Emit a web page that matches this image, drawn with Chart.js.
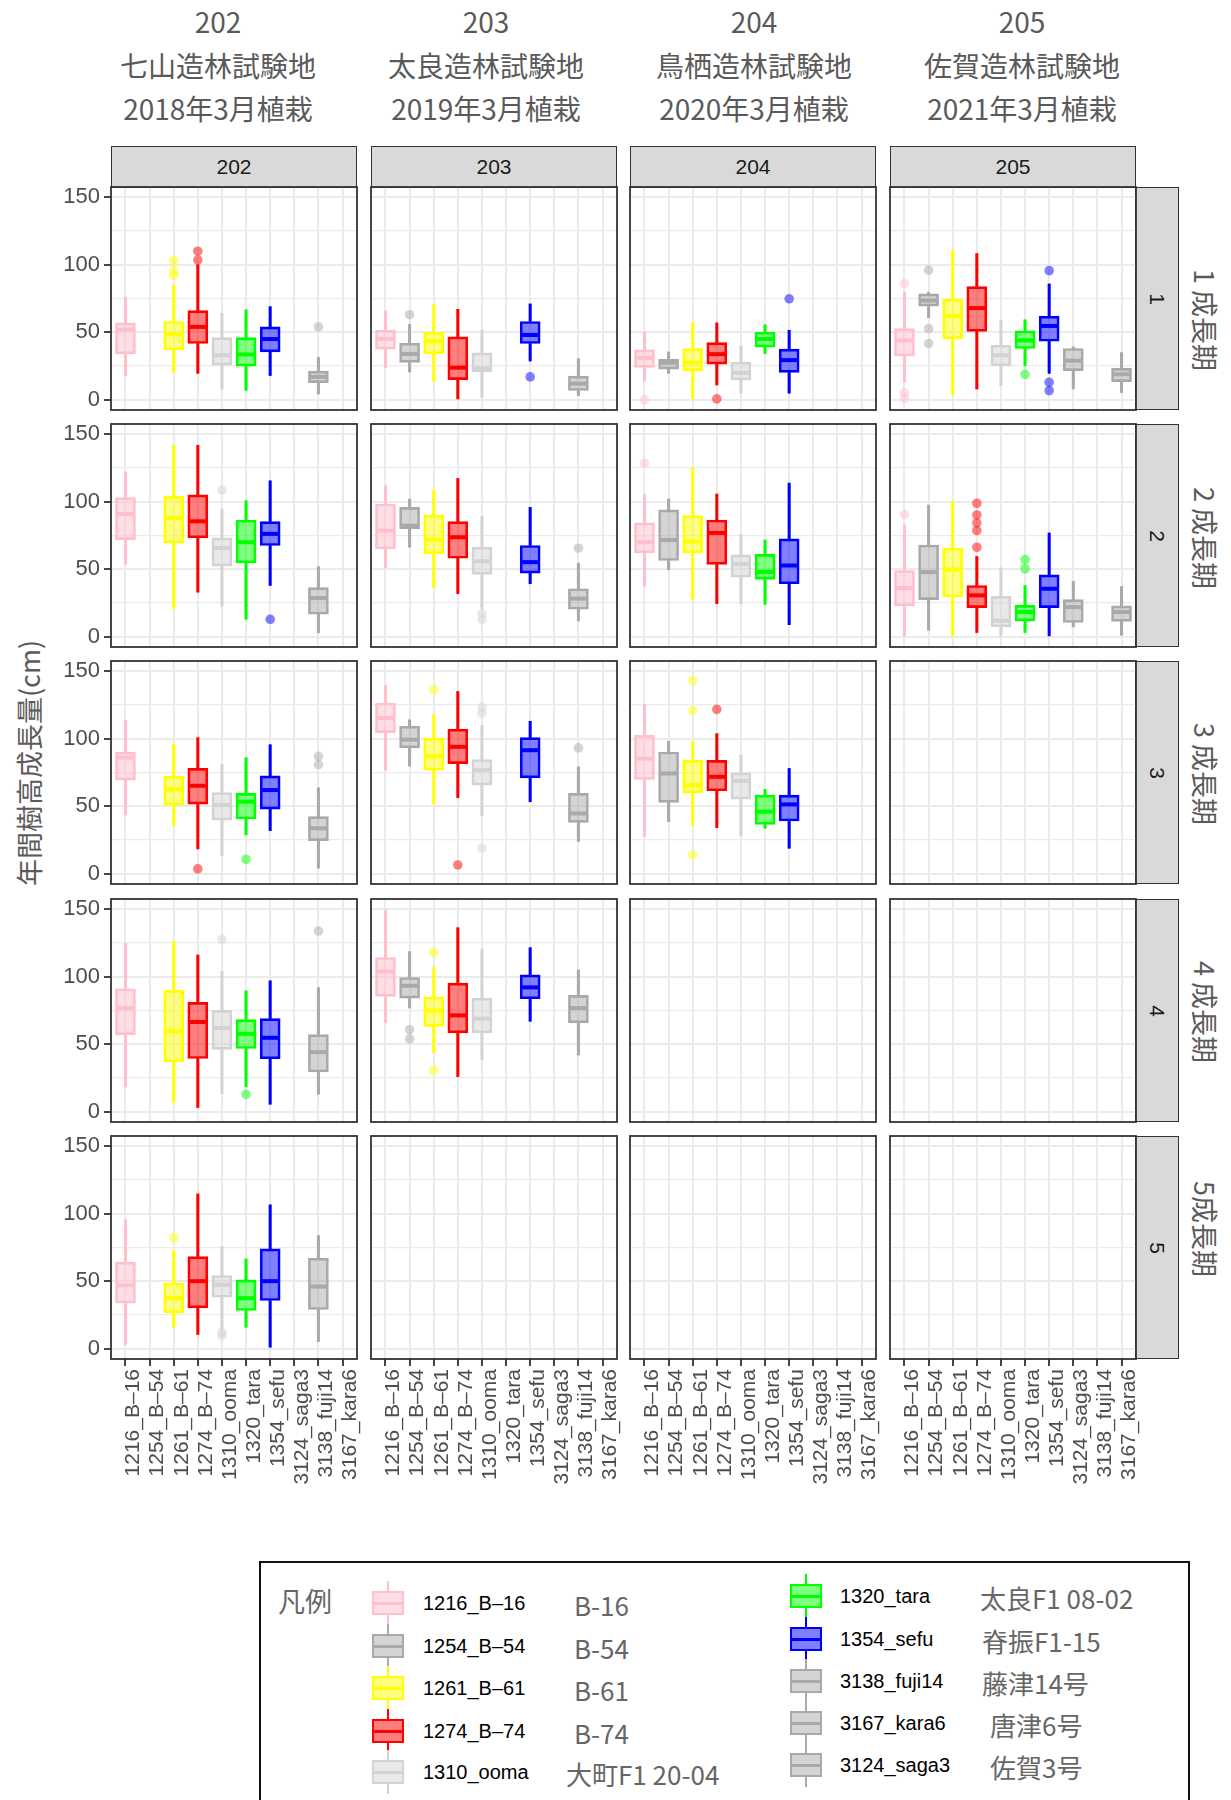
<!DOCTYPE html>
<html lang="ja">
<head>
<meta charset="UTF-8">
<meta name="viewport" content="width=device-width, initial-scale=1.0">
<title>年間樹高成長量</title>
<script src="https://cdn.jsdelivr.net/npm/chart.js"></script>
<style>
  body { margin: 0; background: #fff; }
  #page { position: relative; width: 1231px; height: 1800px; overflow: hidden;
          font-family: "Liberation Sans", Arial, sans-serif; }
  .head { position: absolute; top: 0; width: 320px; margin-left: -160px; text-align: center;
          font-family: "Noto Sans CJK JP", sans-serif; font-size: 28px; line-height: 43.5px; color: #5a5a5a; }
  .strip { position: absolute; box-sizing: border-box; background: #d9d9d9; border: 1.8px solid #333;
           display: flex; align-items: center; justify-content: center; font-size: 21px; color: #1a1a1a; }
  .strip.side span { display: inline-block; transform: rotate(90deg); }
  .rot { position: absolute; white-space: nowrap; font-family: "Noto Sans CJK JP", sans-serif;
         font-size: 27px; color: #5a5a5a; }
  .panel { position: absolute; }
  #legend { position: absolute; left: 259px; top: 1561px; width: 931px; height: 300px;
            box-sizing: border-box; border: 2px solid #111; }
  .lg { position: absolute; transform: translateY(-50%); white-space: nowrap; }
  .code { font-size: 20px; color: #000; }
  .name { font-family: "Noto Sans CJK JP", sans-serif; font-size: 26px; color: #666; }
  .g { position: absolute; box-sizing: border-box; }
</style>
</head>
<body>
<div id="page">
  <div id="legend"></div>
</div>
<script>
// 系統（x軸カテゴリ）と色
const varieties = ['1216_B–16', '1254_B–54', '1261_B–61', '1274_B–74', '1310_ooma',
                   '1320_tara', '1354_sefu', '3124_saga3', '3138_fuji14', '3167_kara6'];
const varietyColors = ['#FFC0CB', '#A9A9A9', '#FFFF00', '#FF0000', '#D3D3D3',
                       '#00FF00', '#0000FF', '#A9A9A9', '#A9A9A9', '#A9A9A9'];
const sites = ['202', '203', '204', '205'];
const siteNames = ['七山造林試験地', '太良造林試験地', '鳥栖造林試験地', '佐賀造林試験地'];
const plantedDates = ['2018年3月植栽', '2019年3月植栽', '2020年3月植栽', '2021年3月植栽'];
const periods = ['1', '2', '3', '4', '5'];
const periodTitles = ['1 成長期', '2 成長期', '3 成長期', '4 成長期', '5成長期'];
const yTicks = [0, 25, 50, 75, 100, 125, 150];

// 箱ひげ: [下ひげ, Q1, 中央値, Q3, 上ひげ]（系統順、null = データなし）
const box_p1_202 = [[18,34,52,57,76], null, [20,37,48.5,58,85], [19.6,41.7,54,66,100], [8,25.7,33,46,64],
                    [7,25,33.6,46,66.7], [18,35.5,45,54,69], null, [4.4,12.7,17,21.3,31.4], null];
const box_p1_203 = [[23.8,37.5,45,51.5,66], [20.6,27.7,34,42,56], [13.5,34,43.6,50,70.6], [0.7,15,23.8,46.6,67],
                    [1.7,20.8,23.3,34.8,51.5], null, [28.7,41.7,48,58,71], null, [3.2,6.9,12,17.6,30.6], null];
const box_p1_204 = [[14,24,31,37,50], [19.6,22.8,27.5,30,35.5], [0,21.6,27.5,38,57], [11,26.5,33.8,42.4,57],
                    [4.9,14.7,20,28,39.7], [34.3,39,45,50,55.6], [4.9,20.3,29.4,37.5,51.5], null, null, null];
const box_p1_205 = [[13,32.6,44,52.7,80], [60.8,69.4,73.5,78.4,79.7], [3.7,45.3,62,74.3,110.8], [8,50.7,67.9,83.8,108.3],
                    [10.5,25.2,33,40.4,58.8], [25.2,38,44,51,59.3], [19.6,43.4,54.7,62,85.8], [8.1,21.6,29,38,39.2],
                    null, [5.4,13.5,18.9,23.3,35]];
const box_p2_202 = [[53.6,72,91,103,122], null, [21,69.5,88,104,141.8], [33,73.2,85.5,105,141.8], [22.8,52.3,65.8,73.2,94.6],
                    [13,54.8,70,86.5,100.7], [38,67.6,76.2,85.3,115.5], null, [3,16.7,28.7,36.4,52], null];
const box_p2_203 = [[51,65,78.6,98.3,111.8], [66.3,79.9,82.3,95.8,102], [36.4,61.4,72,90.2,108.8], [32,58.2,73.7,85.3,117.2],
                    [21,46.2,56,66.3,89.2], null, [39.3,47.2,55.3,67.6,95.8], null, [11.8,20.4,28.3,35.6,54.5], null];
const box_p2_204 = [[37.6,62.2,70,84.3,105.2], [49.6,56.5,71.7,94,102], [27.5,62.2,70.5,89.7,124.8], [24.6,53.6,76.9,86.5,105.7],
                    [24.6,44.2,54,60.7,75.7], [24.1,42.5,48,61,71.7], [9,39.3,52.8,72.5,113.8], null, null, null];
const box_p2_205 = [[0,22.9,36.1,49.1,82.8], [4.9,27.5,47.9,68,97.5], [0,29.5,49.9,65.6,100], [3.2,21.6,30.7,38,59.5],
                    [0,7.4,12,30,51.1], [3.2,11.8,18.4,23.3,38], [0,21.6,35.6,45.9,76.9], [7.4,10.6,22,27.5,41],
                    null, [1.2,11.5,18.4,22.9,37.3]];
const box_p3_202 = [[43.5,69.3,86,90.2,113.6], null, [35.7,50.9,62.5,72.3,95.9], [18.4,51.6,65.2,78,100.8],
                    [13.5,39.8,50.9,60.2,81.1], [28.8,40.6,53.4,59.5,86], [32,47.9,62,72.5,95.6], null,
                    [4.2,24.6,33.7,42.3,63.7], null];
const box_p3_203 = [[76.7,104.5,115.3,126.4,139.4], [79.7,93.2,99.3,109.2,114], [51.6,76.7,87,100.6,118], [56.3,81.6,94,107,135],
                    [43,65.6,76.7,84.6,110], null, [53.4,71,91.5,100.8,112.9], null, [23.9,38.1,44.7,59.5,79.2], null];
const box_p3_204 = [[27.5,69.8,85.3,102.5,125.4], [38.6,52.9,74.3,90.2,98.1], [36.1,60,65.7,84,98.1], [34.2,61.5,71.8,84,103.8],
                    [28.3,55.3,68.8,74.7,87.8], [33.7,36.6,46,58.3,62.5], [18.9,39.1,51.4,58.3,78], null, null, null];
const box_p3_205 = [];
const box_p4_202 = [[18.4,57.2,76.8,91.1,124.7], null, [6.9,37.1,59.7,89.9,126.4], [3.2,39.5,66.5,81,116.1],
                    [13.5,46.2,62.1,75.1,103.9], [18.7,46.9,57.7,68.3,89.6], [5.6,39.3,54.8,69,97], null,
                    [13,29.5,44.2,57.2,92], null];
const box_p4_203 = [[65.8,85.4,103.9,114.2,149.3], [76.8,84.2,93.3,99.4,118.6], [43.7,63.3,74.9,85,106.8], [26,58.4,71.4,95.3,136.3],
                    [38.3,58.4,69,84.2,120.5], null, [67,83.7,92.1,101.4,121.5], null, [42,65.8,76.8,86.2,105], null];
const box_p4_204 = [];
const box_p4_205 = [];
const box_p5_202 = [[3.2,33.8,47,64.2,95.5], null, [16,26.6,37.7,48.6,72.8], [10.6,30.3,50.1,68.3,114.7],
                    [14.3,38.2,47.4,54.3,75.7], [16,28.4,37.5,51.1,66.6], [1.2,35.8,50.1,74,106.6], null,
                    [5.4,29.1,46.1,67.1,83.9], null];
const box_p5_203 = [];
const box_p5_204 = [];
const box_p5_205 = [];

// 外れ値: [系統番号, 値]
const out_p1_202 = [[2,103],[2,95.6],[2,92],[3,110],[3,103.4],[8,54]];
const out_p1_203 = [[1,63],[6,17]];
const out_p1_204 = [[0,0],[3,0.7],[6,74.8]];
const out_p1_205 = [[0,86],[0,5.4],[0,1.2],[1,96],[1,52.7],[1,41.7],[5,18.9],[6,95.6],[6,13],[6,6.9]];
const out_p2_202 = [[4,108.8],[6,13]];
const out_p2_203 = [[4,17.2],[4,13],[8,65.6]];
const out_p2_204 = [[0,128.5]];
const out_p2_205 = [[0,90.4],[3,98.8],[3,90.2],[3,84.3],[3,78.6],[3,66.3],[5,57.2],[5,50.4]];
const out_p3_202 = [[3,3.7],[5,10.8],[8,87],[8,80.9]];
const out_p3_203 = [[2,136.2],[3,6.6],[4,123.4],[4,119],[4,19],[8,93.2]];
const out_p3_204 = [[2,143],[2,121],[2,14],[3,121.7]];
const out_p4_202 = [[4,127.7],[5,13],[8,133.8]];
const out_p4_203 = [[1,60.9],[1,54],[2,117.8],[2,30.9]];
const out_p5_202 = [[2,82.2],[4,12.3],[4,9.9]];

// 凡例
const legendOrder = [0, 1, 2, 3, 4, 5, 6, 8, 9, 7];
const legendNames = ['B-16', 'B-54', 'B-61', 'B-74', '大町F1 20-04', '太良F1 08-02', '脊振F1-15', '藤津14号', '唐津6号', '佐賀3号'];

const panelBoxes = [
  [box_p1_202, box_p1_203, box_p1_204, box_p1_205],
  [box_p2_202, box_p2_203, box_p2_204, box_p2_205],
  [box_p3_202, box_p3_203, box_p3_204, box_p3_205],
  [box_p4_202, box_p4_203, box_p4_204, box_p4_205],
  [box_p5_202, box_p5_203, box_p5_204, box_p5_205]
];
const panelOutliers = [
  [out_p1_202, out_p1_203, out_p1_204, out_p1_205],
  [out_p2_202, out_p2_203, out_p2_204, out_p2_205],
  [out_p3_202, out_p3_203, out_p3_204, []],
  [out_p4_202, out_p4_203, [], []],
  [out_p5_202, [], [], []]
];

// レイアウト
const colLeft = [111, 371, 630, 890];
const rowTop = [187, 424, 661, 899, 1136];
const PW = 246, PH = 223;
const headCenters = [218, 486, 754, 1022];
const sideTextY = [320, 538, 774, 1012, 1229];

function alpha(hex, a) {
  const n = parseInt(hex.slice(1), 16);
  return `rgba(${n >> 16},${(n >> 8) & 255},${n & 255},${a})`;
}

const page = document.getElementById('page');
function addEl(cls, html, css) {
  const d = document.createElement('div');
  d.className = cls;
  d.innerHTML = html;
  Object.assign(d.style, css);
  page.appendChild(d);
  return d;
}

// 上部見出し
sites.forEach((s, c) => {
  addEl('head', `${s}<br>${siteNames[c]}<br>${plantedDates[c]}`, { left: headCenters[c] + 'px' });
  addEl('strip', s, { left: colLeft[c] + 'px', top: '146px', width: PW + 'px', height: '42px' });
});
periods.forEach((p, r) => {
  addEl('strip side', `<span>${p}</span>`, { left: '1135px', top: rowTop[r] + 'px', width: '44px', height: PH + 'px' });
  addEl('rot', periodTitles[r], { left: '1205px', top: sideTextY[r] + 'px', transform: 'translate(-50%,-50%) rotate(90deg)' });
});
addEl('rot', '年間樹高成長量(cm)', { left: '28px', top: '763px', transform: 'translate(-50%,-50%) rotate(-90deg)' });

const framePlugin = {
  id: 'frame',
  afterDraw(chart) {
    const a = chart.chartArea, ctx = chart.ctx;
    ctx.save();
    ctx.strokeStyle = '#333';
    ctx.lineWidth = 1.8;
    ctx.strokeRect(a.left, a.top, a.right - a.left, a.bottom - a.top);
    ctx.restore();
  }
};

const tickFont = { family: '"Liberation Sans", Arial, sans-serif', size: 22 };

rowTop.forEach((top, r) => {
  colLeft.forEach((left, c) => {
    const isLeft = c === 0, isBottom = r === periods.length - 1;
    const padL = isLeft ? 64 : 4, padR = 4, padT = 4, padB = isBottom ? 150 : 4;
    const div = addEl('panel', '', {
      left: (left - padL) + 'px', top: (top - padT) + 'px',
      width: (PW + padL + padR) + 'px', height: (PH + padT + padB) + 'px'
    });
    const canvas = document.createElement('canvas');
    div.appendChild(canvas);

    const boxes = panelBoxes[r][c], outs = panelOutliers[r][c];
    const idx = [];
    boxes.forEach((b, i) => { if (b) idx.push(i); });
    const col = i => varietyColors[i];

    new Chart(canvas, {
      type: 'bar',
      data: {
        datasets: [
          {
            type: 'line', order: 0, showLine: false,
            data: outs.map(o => ({ x: o[0] + 1, y: o[1] })),
            pointRadius: 4.8, pointBorderWidth: 0,
            pointBackgroundColor: outs.map(o => alpha(col(o[0]), 0.5))
          },
          {
            type: 'line', order: 1, showLine: false,
            data: idx.map(i => ({ x: i + 1, y: boxes[i][2] })),
            pointStyle: 'line', pointRadius: 9.5, pointBorderWidth: 4,
            pointBorderColor: idx.map(col)
          },
          {
            order: 2, grouped: false, barThickness: 20, borderWidth: 2, borderSkipped: false,
            data: idx.map(i => ({ x: i + 1, y: [boxes[i][1], boxes[i][3]] })),
            backgroundColor: idx.map(i => alpha(col(i), 0.5)),
            borderColor: idx.map(col)
          },
          {
            order: 3, grouped: false, barThickness: 2.4, borderWidth: 0,
            data: idx.map(i => ({ x: i + 1, y: [boxes[i][0], boxes[i][1]] })),
            backgroundColor: idx.map(col)
          },
          {
            order: 3, grouped: false, barThickness: 2.4, borderWidth: 0,
            data: idx.map(i => ({ x: i + 1, y: [boxes[i][3], boxes[i][4]] })),
            backgroundColor: idx.map(col)
          }
        ]
      },
      options: {
        responsive: true,
        maintainAspectRatio: false,
        animation: false,
        events: [],
        layout: {
          autoPadding: false,
          padding: { left: isLeft ? 0 : padL, right: padR, top: padT, bottom: isBottom ? 0 : padB }
        },
        plugins: { legend: { display: false }, tooltip: { enabled: false } },
        scales: {
          x: {
            type: 'linear', min: 0.4, max: 10.6, offset: false, bounds: 'data',
            border: { display: false },
            grid: {
              offset: false, color: '#EBEBEB', lineWidth: 2,
              drawTicks: isBottom, tickLength: 7, tickColor: '#333', tickWidth: 1.8
            },
            ticks: {
              display: isBottom, autoSkip: false, minRotation: 90, maxRotation: 90, padding: 3,
              labelOffset: 8,
              color: '#4D4D4D', font: { family: tickFont.family, size: 21 },
              callback: v => varieties[Math.round(v) - 1]
            },
            afterBuildTicks: s => { s.ticks = varieties.map((v, i) => ({ value: i + 1 })); },
            afterFit: s => { s.height = isBottom ? padB : 0; s.paddingLeft = 0; s.paddingRight = 0; }
          },
          y: {
            type: 'linear', min: -7.5, max: 157.5, bounds: 'data',
            border: { display: false },
            grid: {
              color: '#EBEBEB',
              lineWidth: ctx => (ctx.tick && ctx.tick.value % 50 === 0) ? 2 : 1.2,
              drawTicks: isLeft, tickLength: 7, tickWidth: 1.8,
              tickColor: ctx => (ctx.tick && ctx.tick.value % 50 === 0) ? '#333' : 'rgba(0,0,0,0)'
            },
            ticks: {
              display: isLeft, autoSkip: false, padding: 4, color: '#4D4D4D', font: tickFont,
              callback: v => (v % 50 === 0 ? String(v) : '')
            },
            afterBuildTicks: s => { s.ticks = yTicks.map(v => ({ value: v })); },
            afterFit: s => { s.width = isLeft ? padL : 0; s.paddingTop = 0; s.paddingBottom = 0; }
          }
        }
      },
      plugins: [framePlugin]
    });
  });
});

// 凡例
addEl('lg name', '凡例', { left: '278px', top: '1600px', fontSize: '27px' });
const legendY = [[1603, 1646, 1688, 1731, 1772], [1596, 1639, 1681, 1723, 1765]];
const legendGlyphX = [388, 806];
const legendCodeX = [423, 840];
const legendNameX = [[574, 574, 574, 574, 566], [980, 982, 982, 990, 990]];
function glyph(color, cx, cy) {
  addEl('g', '', { left: (cx - 1.2) + 'px', top: (cy - 22) + 'px', width: '2.4px', height: '11px', background: color });
  addEl('g', '', { left: (cx - 1.2) + 'px', top: (cy + 11) + 'px', width: '2.4px', height: '11px', background: color });
  addEl('g', '', { left: (cx - 16) + 'px', top: (cy - 12) + 'px', width: '32px', height: '24px',
                   border: '2px solid ' + color, background: alpha(color, 0.5) });
  addEl('g', '', { left: (cx - 15) + 'px', top: (cy - 1.5) + 'px', width: '30px', height: '3px', background: color });
}
legendOrder.forEach((vi, k) => {
  const col = k < 5 ? 0 : 1, row = k % 5;
  const cy = legendY[col][row];
  glyph(varietyColors[vi], legendGlyphX[col], cy);
  addEl('lg code', varieties[vi], { left: legendCodeX[col] + 'px', top: cy + 'px' });
  addEl('lg name', legendNames[k], { left: legendNameX[col][row] + 'px', top: (cy + 1) + 'px' });
});
</script>
</body>
</html>
